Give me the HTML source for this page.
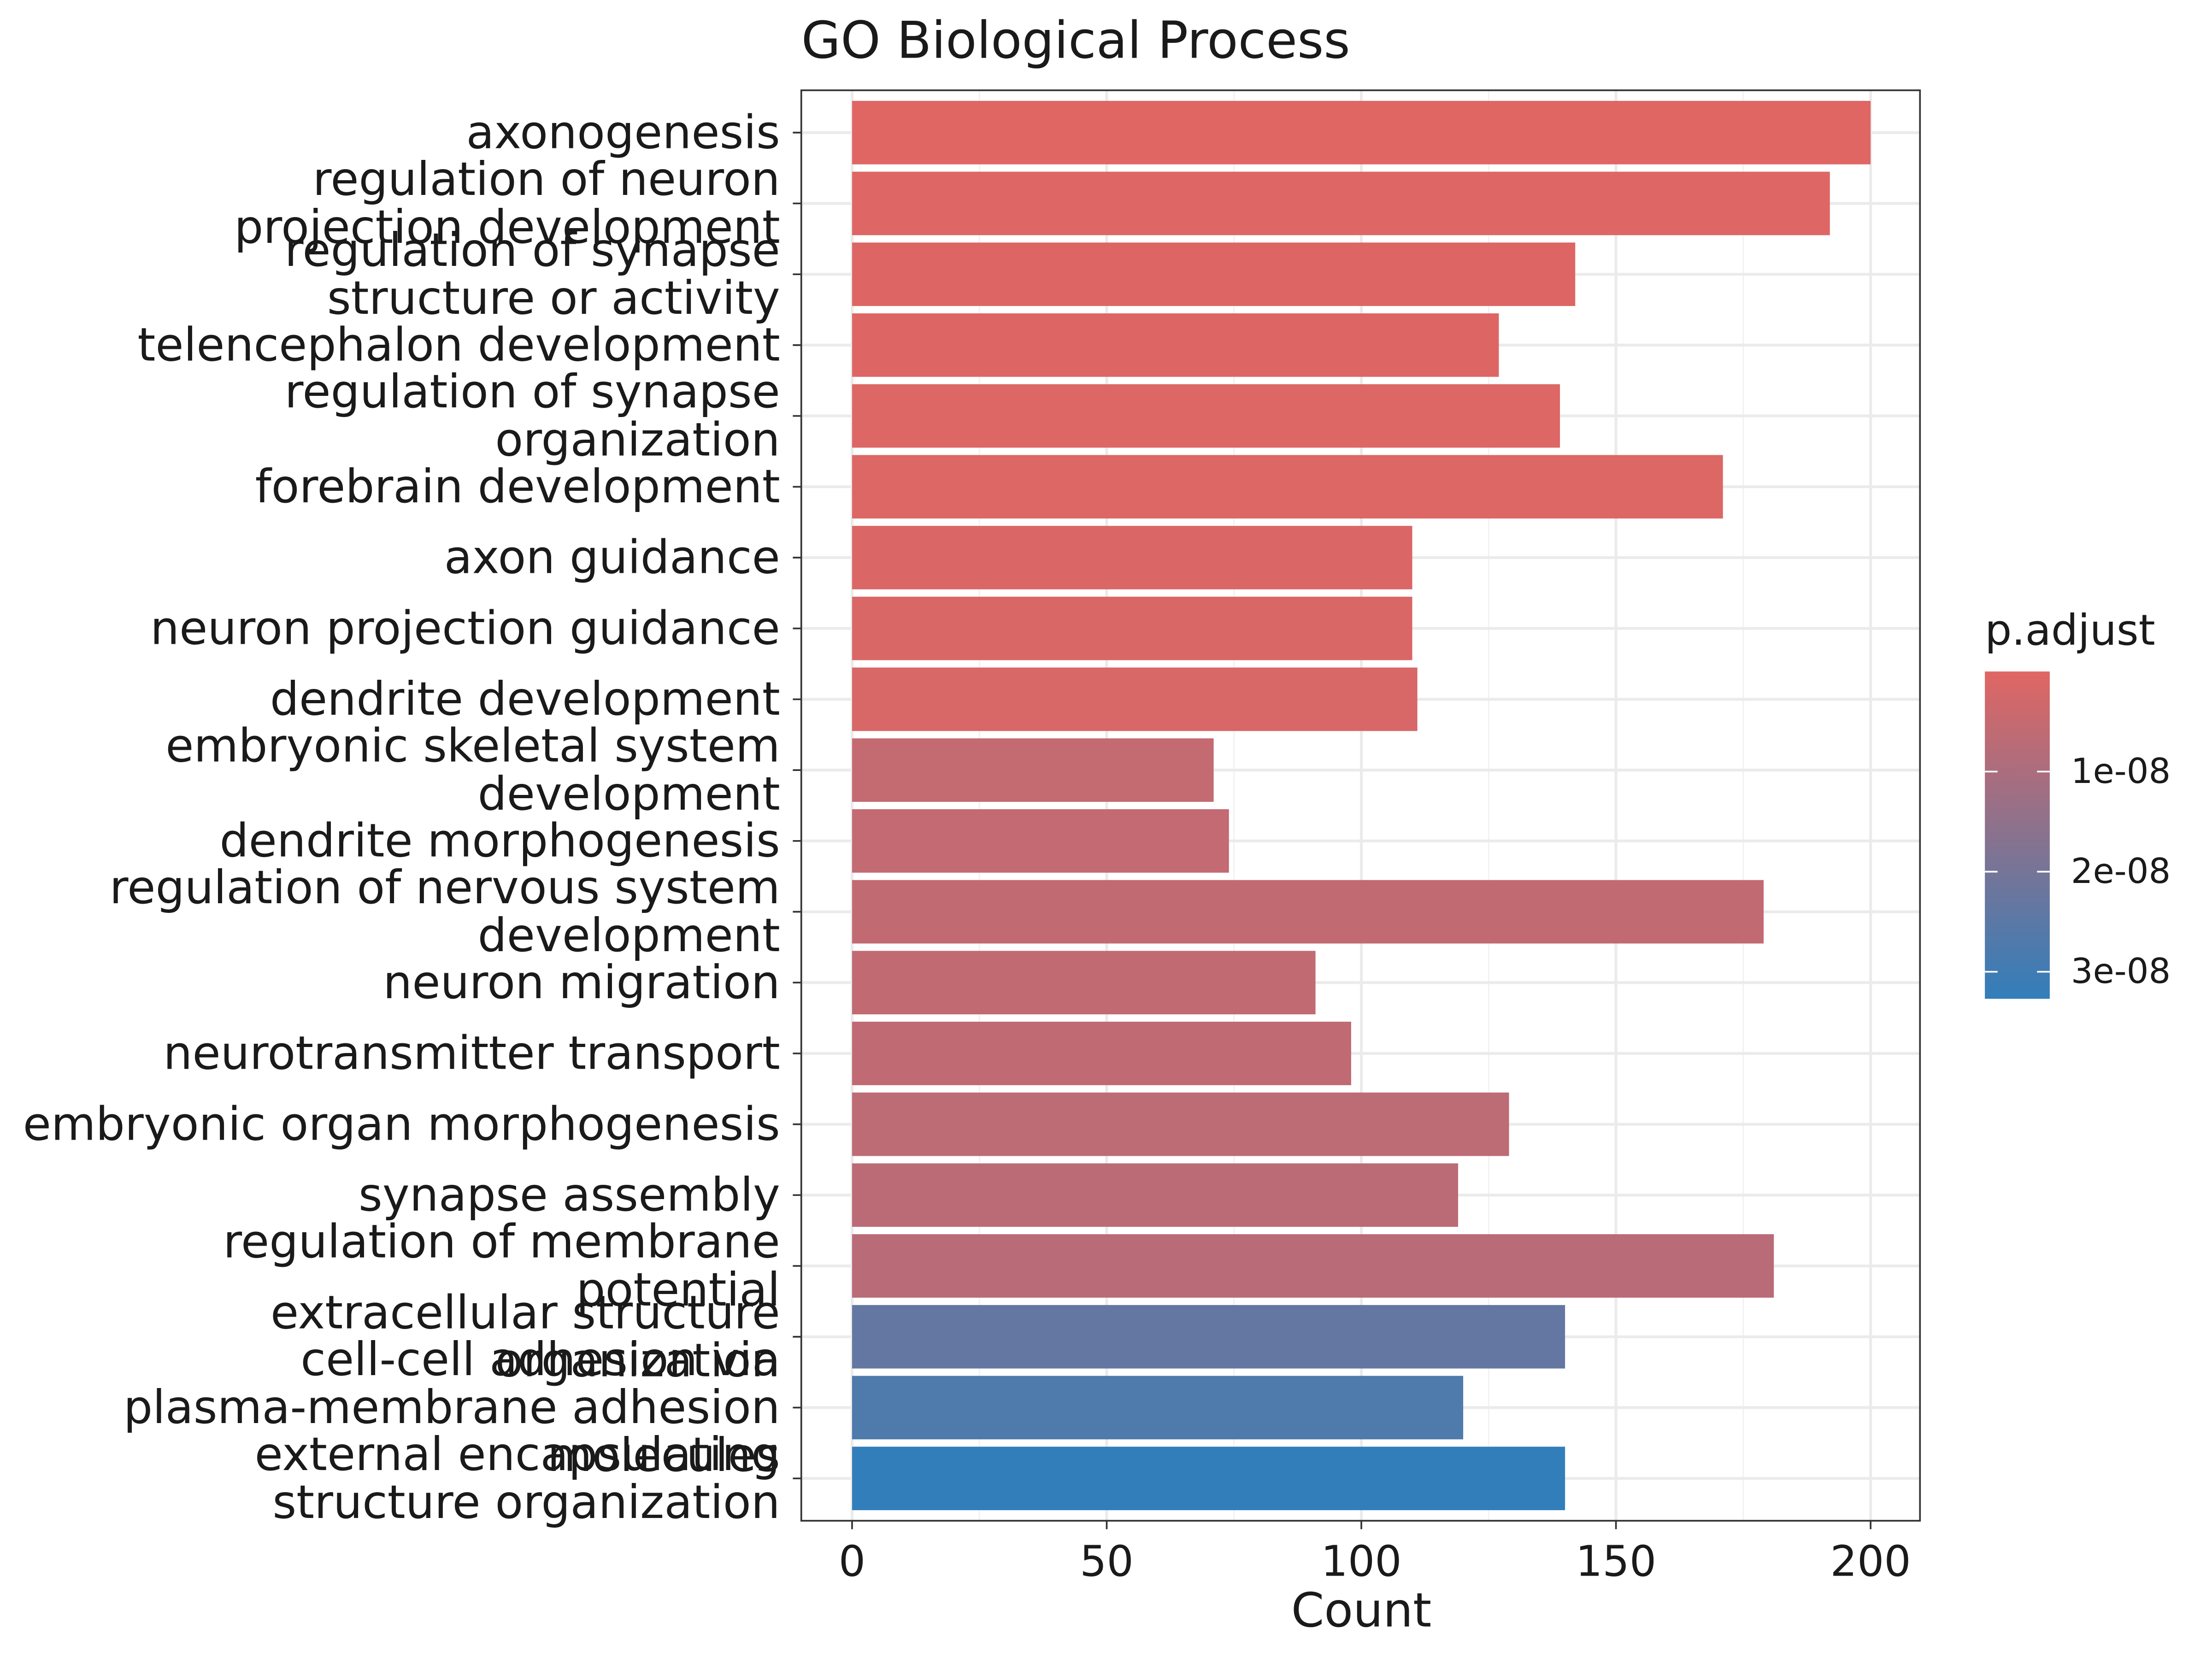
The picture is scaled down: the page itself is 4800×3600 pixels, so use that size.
<!DOCTYPE html>
<html><head><meta charset="utf-8"><style>html,body{margin:0;padding:0;background:#fff}svg{display:block}text{font-family:"DejaVu Sans","Liberation Sans",sans-serif;fill:#1a1a1a}</style></head>
<body>
<svg id="chart" width="4800" height="3600" viewBox="0 0 1568 1176" xmlns="http://www.w3.org/2000/svg">
<defs><linearGradient id="grad" x1="0" y1="0" x2="0" y2="1"><stop offset="0" stop-color="#e06663"/><stop offset="1" stop-color="#327eba"/></linearGradient></defs>
<rect width="1568" height="1176" fill="#fff"/>
<text x="568" y="41" font-size="36">GO Biological Process</text>
<g id="grid"></g><g id="bars"></g>
<rect x="568" y="64" width="793" height="1014" fill="none" stroke="#333" stroke-width="1.2"/>
<g id="axes"></g>
<text x="965" y="1153" font-size="33.5" text-anchor="middle">Count</text>
<g>
<text x="1407" y="457" font-size="30">p.adjust</text>
<rect x="1407" y="476" width="46" height="232" fill="url(#grad)"/>
<g id="legend-ticks"></g>
</g>
</svg>
<script>
const categories=[["axonogenesis"],["regulation of neuron","projection development"],["regulation of synapse","structure or activity"],["telencephalon development"],["regulation of synapse","organization"],["forebrain development"],["axon guidance"],["neuron projection guidance"],["dendrite development"],["embryonic skeletal system","development"],["dendrite morphogenesis"],["regulation of nervous system","development"],["neuron migration"],["neurotransmitter transport"],["embryonic organ morphogenesis"],["synapse assembly"],["regulation of membrane","potential"],["extracellular structure","organization"],["cell-cell adhesion via","plasma-membrane adhesion","molecules"],["external encapsulating","structure organization"]];
const counts=[200,192,142,127,139,171,110,110,111,71,74,179,91,98,129,119,181,140,120,140];
const padj=[0.1e-9,0.3e-9,0.5e-9,0.6e-9,0.7e-9,0.8e-9,1.2e-9,1.3e-9,1.5e-9,5.2e-9,5.5e-9,5.6e-9,5.8e-9,6.0e-9,6.6e-9,7.0e-9,7.4e-9,2.35e-8,2.75e-8,3.27e-8];
const xTicks=[0,50,100,150,200];
const legendTicks=[1e-8,2e-8,3e-8];
const legendLabels=["1e-08","2e-08","3e-08"];
const NS="http://www.w3.org/2000/svg";
const x=v=>604+v*(1326-604)/200;
const y=i=>94+i*(1048-94)/19;
const pMax=3.27e-8;
const ly=p=>476+p/pMax*232;
function col(p){const t=Math.min(1,p/pMax);const a=[224,102,99],b=[50,126,186];return `rgb(${a.map((c,k)=>Math.round(c+(b[k]-c)*t)).join(",")})`;}
function mk(tag,at,parent){const e=document.createElementNS(NS,tag);for(const k in at)e.setAttribute(k,at[k]);parent.appendChild(e);return e;}
const grid=document.getElementById('grid'),bars=document.getElementById('bars'),axes=document.getElementById('axes'),lt=document.getElementById('legend-ticks');
for(let v=25;v<=225;v+=50){if(x(v)<1361){const l=mk('line',{x1:x(v),x2:x(v),y1:64,y2:1078,stroke:'#f2f2f2','stroke-width':1},grid);}}
xTicks.forEach(v=>{const l=mk('line',{x1:x(v),x2:x(v),y1:64,y2:1078,stroke:'#ebebeb','stroke-width':2},grid);


const t=mk('line',{x1:x(v),x2:x(v),y1:1078,y2:1084,stroke:'#333','stroke-width':1.2},axes);


const tx=mk('text',{x:x(v),y:1117,'font-size':30,'text-anchor':'middle'},axes);tx.textContent=v;

});
categories.forEach((lines,i)=>{const c=y(i);
const g=mk('line',{x1:568,x2:1361,y1:c,y2:c,stroke:'#ebebeb','stroke-width':2},grid);


const r=mk('rect',{x:x(0),y:c-22.5,width:x(counts[i])-x(0),height:45,fill:col(padj[i])},bars);


const t=mk('line',{x1:562,x2:568,y1:c,y2:c,stroke:'#333','stroke-width':1.2},axes);


const n=lines.length;lines.forEach((s,k)=>{const tx=mk('text',{x:553,y:c+11+(k-(n-1)/2)*34,'font-size':32.5,'text-anchor':'end'},axes);tx.textContent=s;

});});
legendTicks.forEach((p,i)=>{const yy=ly(p);
const a=mk('line',{x1:1407,x2:1416,y1:yy,y2:yy,stroke:'#fff','stroke-width':1.2},lt);


const b=mk('line',{x1:1444,x2:1453,y1:yy,y2:yy,stroke:'#fff','stroke-width':1.2},lt);


const tx=mk('text',{x:1468,y:yy+8,'font-size':24.5},lt);tx.textContent=legendLabels[i];

});
</script>
</body></html>
